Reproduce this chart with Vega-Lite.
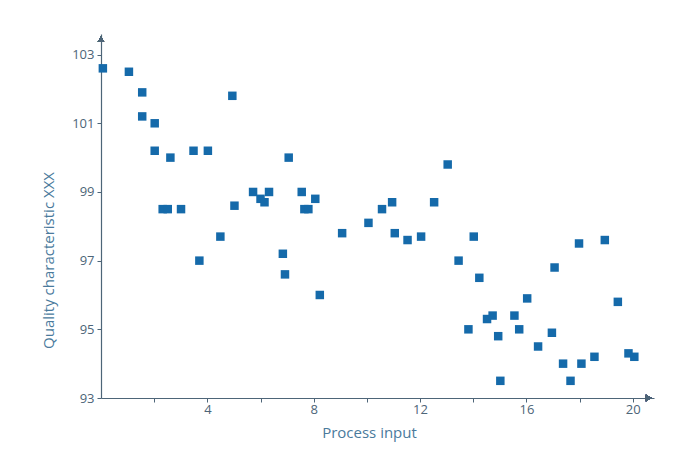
{
  "$schema": "https://vega.github.io/schema/vega-lite/v6.json",
  "autosize": "none",
  "padding": {"left": 101, "top": 34, "right": 25, "bottom": 60},
  "width": 553,
  "height": 364,
  "background": "white",
  "config": {
    "view": {"stroke": null},
    "font": "Open Sans",
    "axis": {
      "grid": false,
      "domainColor": "#4d6578",
      "tickColor": "#4d6578",
      "labelColor": "#4d6578",
      "titleColor": "#4a7a9c",
      "labelFont": "Open Sans",
      "titleFont": "Open Sans",
      "labelFontSize": 13,
      "titleFontSize": 15,
      "titleFontWeight": "normal",
      "tickSize": 4,
      "domainWidth": 1.2,
      "tickWidth": 1
    }
  },
  "data": {
    "values": [
      {"input": 0.07, "quality": 102.6},
      {"input": 1.05, "quality": 102.5},
      {"input": 1.55, "quality": 101.9},
      {"input": 1.55, "quality": 101.2},
      {"input": 2.02, "quality": 101.0},
      {"input": 2.02, "quality": 100.2},
      {"input": 2.61, "quality": 100.0},
      {"input": 3.48, "quality": 100.2},
      {"input": 4.02, "quality": 100.2},
      {"input": 4.94, "quality": 101.8},
      {"input": 2.32, "quality": 98.5},
      {"input": 2.51, "quality": 98.5},
      {"input": 3.01, "quality": 98.5},
      {"input": 5.02, "quality": 98.6},
      {"input": 5.72, "quality": 99.0},
      {"input": 6.0, "quality": 98.8},
      {"input": 6.15, "quality": 98.7},
      {"input": 6.32, "quality": 99.0},
      {"input": 7.06, "quality": 100.0},
      {"input": 7.55, "quality": 99.0},
      {"input": 8.06, "quality": 98.8},
      {"input": 7.65, "quality": 98.5},
      {"input": 7.8, "quality": 98.5},
      {"input": 13.04, "quality": 99.8},
      {"input": 10.95, "quality": 98.7},
      {"input": 10.57, "quality": 98.5},
      {"input": 12.53, "quality": 98.7},
      {"input": 10.06, "quality": 98.1},
      {"input": 4.49, "quality": 97.7},
      {"input": 3.7, "quality": 97.0},
      {"input": 9.07, "quality": 97.8},
      {"input": 11.05, "quality": 97.8},
      {"input": 11.53, "quality": 97.6},
      {"input": 12.04, "quality": 97.7},
      {"input": 6.84, "quality": 97.2},
      {"input": 6.92, "quality": 96.6},
      {"input": 8.23, "quality": 96.0},
      {"input": 13.45, "quality": 97.0},
      {"input": 14.02, "quality": 97.7},
      {"input": 14.23, "quality": 96.5},
      {"input": 16.03, "quality": 95.9},
      {"input": 17.06, "quality": 96.8},
      {"input": 17.98, "quality": 97.5},
      {"input": 18.95, "quality": 97.6},
      {"input": 19.44, "quality": 95.8},
      {"input": 14.52, "quality": 95.3},
      {"input": 14.73, "quality": 95.4},
      {"input": 15.55, "quality": 95.4},
      {"input": 13.82, "quality": 95.0},
      {"input": 14.94, "quality": 94.8},
      {"input": 15.73, "quality": 95.0},
      {"input": 16.96, "quality": 94.9},
      {"input": 16.44, "quality": 94.5},
      {"input": 17.38, "quality": 94.0},
      {"input": 18.07, "quality": 94.0},
      {"input": 18.56, "quality": 94.2},
      {"input": 19.84, "quality": 94.3},
      {"input": 20.06, "quality": 94.2},
      {"input": 15.02, "quality": 93.5},
      {"input": 17.66, "quality": 93.5}
    ]
  },
  "layer": [
    {
      "mark": {"type": "square", "size": 72, "color": "#156aaa", "opacity": 1, "filled": true},
      "encoding": {
        "x": {
          "field": "input",
          "type": "quantitative",
          "scale": {"domain": [0, 20.8], "nice": false, "zero": false},
          "axis": {
            "title": "Process input",
            "values": [2, 4, 6, 8, 10, 12, 14, 16, 18, 20],
            "labelExpr": "datum.value % 4 === 0 ? datum.label : ''",
            "labelPadding": 1,
            "titlePadding": 9,
            "titleX": 268
          }
        },
        "y": {
          "field": "quality",
          "type": "quantitative",
          "scale": {"domain": [93, 103.6], "nice": false, "zero": false},
          "axis": {
            "title": "Quality characteristic XXX",
            "values": [93, 94, 95, 96, 97, 98, 99, 100, 101, 102, 103],
            "labelExpr": "datum.value % 2 === 1 ? datum.label : ''",
            "labelPadding": 3,
            "titlePadding": 15,
            "titleY": 226
          }
        }
      }
    },
    {
      "mark": {"type": "point", "shape": "triangle-right", "size": 40, "filled": true, "color": "#4d6578", "opacity": 1},
      "encoding": {
        "x": {"datum": 20.6, "type": "quantitative"},
        "y": {"datum": 93, "type": "quantitative"}
      }
    },
    {
      "mark": {"type": "point", "shape": "triangle-up", "size": 40, "filled": true, "color": "#4d6578", "opacity": 1},
      "encoding": {
        "x": {"datum": 0, "type": "quantitative"},
        "y": {"datum": 103.45, "type": "quantitative"}
      }
    }
  ]
}
